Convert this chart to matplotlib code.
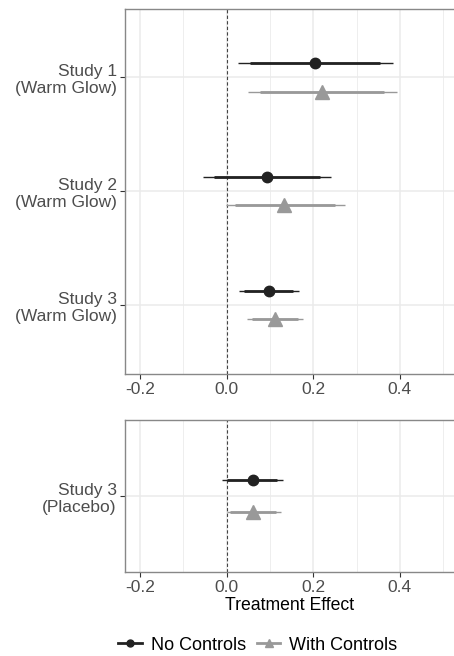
import matplotlib
matplotlib.use("Agg")
import matplotlib.pyplot as plt
from matplotlib.lines import Line2D
from matplotlib.ticker import MultipleLocator

plt.rcParams['font.family'] = ['Liberation Sans', 'DejaVu Sans']

# top panel: warm glow studies
wg_labels = ["Study 1\n(Warm Glow)", "Study 2\n(Warm Glow)", "Study 3\n(Warm Glow)"]
wg_nc_est = [0.204, 0.093, 0.098]
wg_nc_lo95 = [0.025, -0.054, 0.029]
wg_nc_hi95 = [0.385, 0.240, 0.166]
wg_nc_lo90 = [0.054, -0.029, 0.040]
wg_nc_hi90 = [0.355, 0.216, 0.154]
wg_wc_est = [0.219, 0.133, 0.111]
wg_wc_lo95 = [0.048, -0.002, 0.047]
wg_wc_hi95 = [0.393, 0.273, 0.176]
wg_wc_lo90 = [0.077, 0.019, 0.058]
wg_wc_hi90 = [0.364, 0.250, 0.165]

# bottom panel: placebo
pl_labels = ["Study 3\n(Placebo)"]
pl_nc_est = [0.060]
pl_nc_lo95 = [-0.010]
pl_nc_hi95 = [0.131]
pl_nc_lo90 = [0.001]
pl_nc_hi90 = [0.117]
pl_wc_est = [0.060]
pl_wc_lo95 = [0.001]
pl_wc_hi95 = [0.126]
pl_wc_lo90 = [0.008]
pl_wc_hi90 = [0.114]

c_nc = '#222222'
c_wc = '#999999'
W, H = 454, 656

fig = plt.figure(figsize=(W / 100, H / 100), dpi=100)


def panel(rect, labels, groups):
    ax = fig.add_axes(rect)
    n = len(labels)
    pos = list(range(1, n + 1))
    for est, lo95, hi95, lo90, hi90, col, mk, ms, off in groups:
        ys = [p + off for p in pos]
        ax.hlines(ys, lo95, hi95, color=col, lw=1.0, zorder=3)
        ax.hlines(ys, lo90, hi90, color=col, lw=2.0, zorder=4)
        ax.plot(est, ys, linestyle='none', marker=mk, ms=ms, color=col, zorder=5)
    ax.axvline(0, color='#444444', lw=0.8, ls=(0, (3, 2)), zorder=2)
    ax.set_xlim(-0.235, 0.525)
    ax.set_ylim(n + 0.6, 0.4)
    ax.set_yticks(pos)
    ax.set_yticklabels(labels, ha='right', linespacing=1.2)
    ax.xaxis.set_minor_locator(MultipleLocator(0.1))
    ax.set_xticks([-0.2, 0.0, 0.2, 0.4])
    ax.set_xticklabels(['-0.2', '0.0', '0.2', '0.4'])
    ax.grid(which='major', color='#EBEBEB', lw=1.1, zorder=0)
    ax.grid(which='minor', axis='x', color='#EBEBEB', lw=0.6, zorder=0)
    ax.set_axisbelow(True)
    ax.tick_params(axis='both', which='major', labelsize=12.5, labelcolor='#4D4D4D',
                   color='#333333', length=3.5, width=0.8, pad=2.5)
    ax.tick_params(which='minor', length=0)
    for s in ['left', 'bottom', 'top']:
        ax.spines[s].set_color('#888888')
        ax.spines[s].set_linewidth(1.0)
    ax.spines['right'].set_visible(False)
    return ax


left = 125 / W
top_ax = panel([left, 1 - 373.5 / H, 1 - left, (373.5 - 9) / H], wg_labels, [
    (wg_nc_est, wg_nc_lo95, wg_nc_hi95, wg_nc_lo90, wg_nc_hi90, c_nc, 'o', 7.5, -0.125),
    (wg_wc_est, wg_wc_lo95, wg_wc_hi95, wg_wc_lo90, wg_wc_hi90, c_wc, '^', 9.5, 0.125),
])
bot_ax = panel([left, 1 - 572 / H, 1 - left, (572 - 420) / H], pl_labels, [
    (pl_nc_est, pl_nc_lo95, pl_nc_hi95, pl_nc_lo90, pl_nc_hi90, c_nc, 'o', 7.5, -0.125),
    (pl_wc_est, pl_wc_lo95, pl_wc_hi95, pl_wc_lo90, pl_wc_hi90, c_wc, '^', 9.5, 0.125),
])
bot_ax.set_xlabel('Treatment Effect', fontsize=12.7, color='black', labelpad=1)

handles = [
    Line2D([], [], color=c_nc, lw=2.0, marker='o', ms=5),
    Line2D([], [], color=c_wc, lw=2.0, marker='^', ms=6),
]
fig.legend(handles, ['No Controls', 'With Controls'], loc='center',
           bbox_to_anchor=(258 / W, 1 - 645 / H), ncol=2, frameon=False,
           fontsize=13, handlelength=1.3, handletextpad=0.5, columnspacing=0.6)

fig.savefig('out.png', dpi=100)
